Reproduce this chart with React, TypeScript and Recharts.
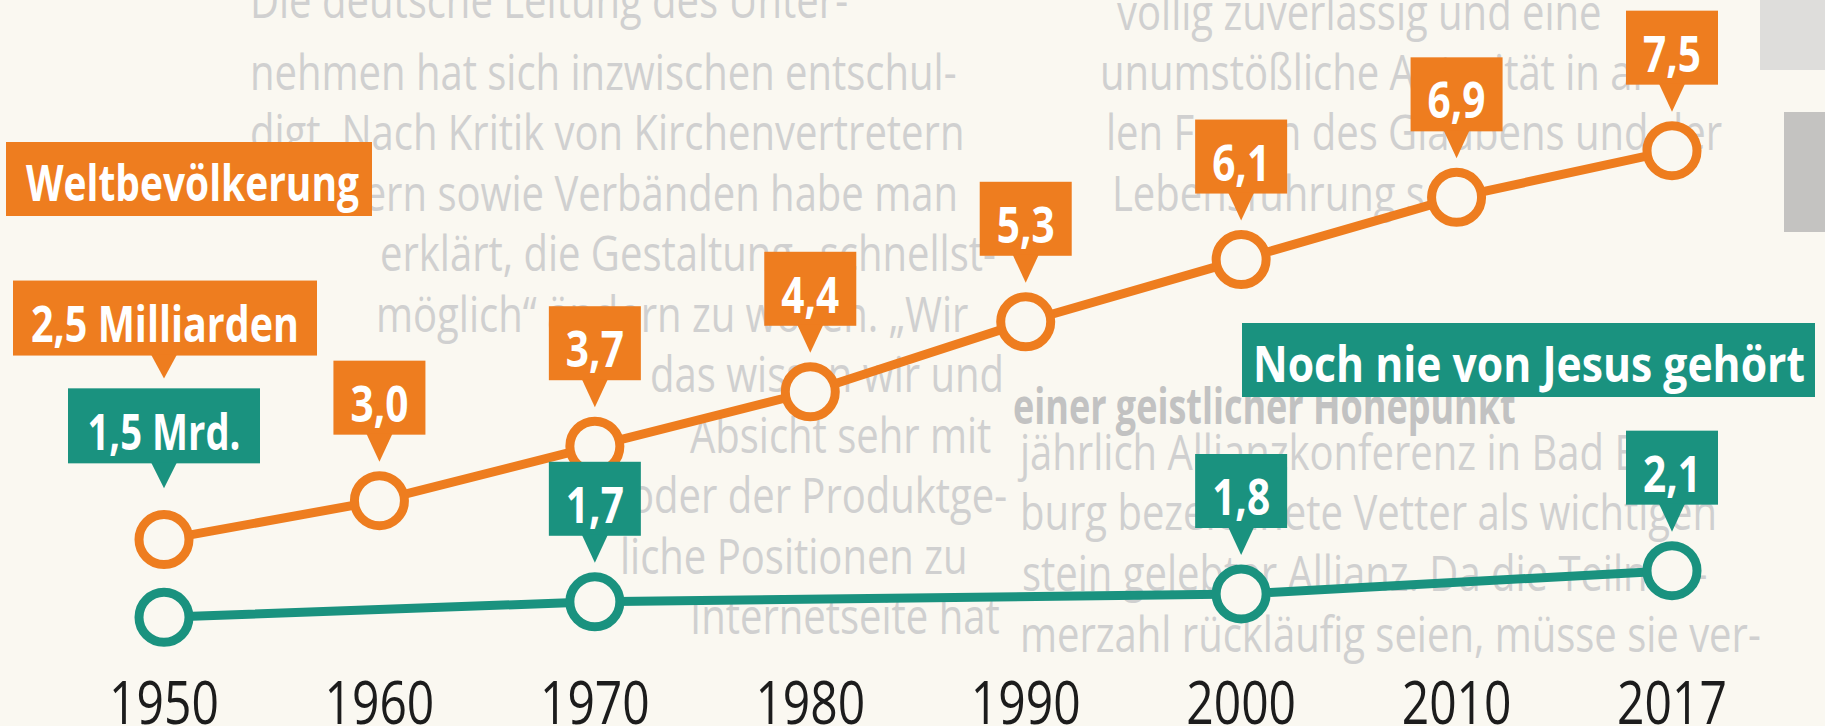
import { LineChart, Line, XAxis, YAxis, LabelList } from "recharts";

// Weltbevölkerung vs. Menschen, die noch nie von Jesus gehört haben (Mrd.)
const years = ["1950", "1960", "1970", "1980", "1990", "2000", "2010", "2017"];
const worldPopulation = [2.5, 3.0, 3.7, 4.4, 5.3, 6.1, 6.9, 7.5];
const neverHeard = [1.5, null, 1.7, null, null, 1.8, null, 2.1];
const worldLabels = ["2,5 Milliarden", "3,0", "3,7", "4,4", "5,3", "6,1", "6,9", "7,5"];
const neverHeardLabels = ["1,5 Mrd.", "", "1,7", "", "", "1,8", "", "2,1"];
const seriesTitles = ["Weltbevölkerung", "Noch nie von Jesus gehört"];

const data = years.map((year, i) => ({
  year,
  welt: worldPopulation[i],
  jesus: neverHeard[i],
}));

const W = 1825;
const H = 760;
const PAPER = "#faf8f1";
const ORANGE = "#ee7d1f";
const TEAL = "#1a927f";
const FONT = "'Open Sans', 'DejaVu Sans', sans-serif";

type Geo = { w: number; dx: number; top: number; bottom: number; tip: number; tw: number };
const valueBox: Geo = { w: 92, dx: 0, top: 140, bottom: 66, tip: 39, tw: 58 };

function makeCallout(labels: string[], color: string, lead: Geo) {
  return (props: any) => {
    const x = Number(props.x);
    const y = Number(props.y);
    const i = props.index;
    const text = labels[i];
    if (!text || isNaN(x) || isNaN(y)) return null;
    const g = i === 0 ? lead : valueBox;
    const cx = x + g.dx;
    const top = y - g.top;
    const bottom = y - g.bottom;
    const tip = y - g.tip;
    return (
      <g>
        <rect x={cx - g.w / 2} y={top} width={g.w} height={bottom - top} fill={color} />
        <polygon points={`${x - 13},${bottom - 1} ${x + 13},${bottom - 1} ${x},${tip}`} fill={color} />
        <text
          x={cx}
          y={(top + bottom) / 2 + 4}
          textAnchor="middle"
          dominantBaseline="central"
          textLength={g.tw}
          lengthAdjust="spacingAndGlyphs"
          fill="#fff"
          fontFamily={FONT}
          fontWeight={700}
          fontSize={51}
        >
          {text}
        </text>
      </g>
    );
  };
}

const YearTick = (props: any) => (
  <text
    transform={`translate(${props.x} ${H - 36}) scale(0.8 1)`}
    textAnchor="middle"
    fill="#1c1c1c"
    fontFamily={FONT}
    fontSize={60}
  >
    {props.payload.value}
  </text>
);

// faded article text of the scanned page behind the graphic: [text, x, baseline, bold]
const pageText: [string, number, number, boolean?][] = [
  ["Die deutsche Leitung des Unter-", 250, 18],
  ["nehmen hat sich inzwischen entschul-", 250, 90],
  ["digt. Nach Kritik von Kirchenvertretern", 250, 150],
  ["Politikern sowie Verbänden habe man", 250, 211],
  ["erklärt, die Gestaltung „schnellst-", 380, 271],
  ["möglich“ ändern zu wollen. „Wir", 376, 332],
  ["das wissen wir und", 650, 392],
  ["Absicht sehr mit", 690, 453],
  ["oder der Produktge-", 630, 513],
  ["liche Positionen zu", 620, 574],
  ["Internetseite hat", 690, 634],
  ["völlig zuverlässig und eine", 1117, 30],
  ["unumstößliche Autorität in al-", 1100, 90],
  ["len Fragen des Glaubens und der", 1106, 150],
  ["Lebensführung sei.", 1112, 211],
  ["einer geistlicher Höhepunkt", 1013, 424, true],
  ["jährlich Allianzkonferenz in Bad Blan-", 1020, 470],
  ["burg bezeichnete Vetter als wichtigen", 1020, 530],
  ["stein gelebter Allianz. Da die Teilneh-", 1022, 591],
  ["merzahl rückläufig seien, müsse sie ver-", 1020, 652],
];

function Title({ text, x, y, w, h, tx, tw, color }: { text: string; x: number; y: number; w: number; h: number; tx: number; tw: number; color: string }) {
  return (
    <g>
      <rect x={x} y={y} width={w} height={h} fill={color} />
      <text
        x={tx}
        y={y + h / 2 + 3}
        dominantBaseline="central"
        textLength={tw}
        lengthAdjust="spacingAndGlyphs"
        fill="#fff"
        fontFamily={FONT}
        fontWeight={700}
        fontSize={50}
      >
        {text}
      </text>
    </g>
  );
}

export default function App() {
  return (
    <div style={{ position: "fixed", left: 0, top: 0, width: W, height: 726, overflow: "hidden", background: PAPER }}>
      <svg width={W} height={726} style={{ position: "absolute", left: 0, top: 0 }}>
        <rect x={1760} y={0} width={65} height={70} fill="#dedddb" />
        <rect x={1784} y={112} width={41} height={120} fill="#c4c3c1" />
        {pageText.map(([t, x, y, bold]) => (
          <text
            key={t}
            transform={`translate(${x} ${y}) scale(${bold ? 0.72 : 0.8} 1)`}
            fill={bold ? "#c2c2c2" : "#d0d0d0"}
            fontFamily={FONT}
            fontWeight={bold ? 700 : 400}
            fontSize={50}
          >
            {t}
          </text>
        ))}
      </svg>
      <div style={{ position: "absolute", left: 0, top: 0 }}>
        <LineChart width={W} height={H} data={data} margin={{ top: 34, right: 153, left: 164, bottom: 0 }}>
          <XAxis
            dataKey="year"
            axisLine={false}
            tickLine={false}
            height={26}
            interval={0}
            tick={<YearTick />}
          />
          <YAxis hide domain={[0, 9]} />
          <Line
            dataKey="welt"
            stroke={ORANGE}
            strokeWidth={9}
            dot={{ r: 25, stroke: ORANGE, strokeWidth: 9, fill: PAPER }}
            activeDot={false}
            isAnimationActive={false}
          >
            <LabelList
              dataKey="welt"
              content={makeCallout(worldLabels, ORANGE, { w: 304, dx: 1, top: 259, bottom: 184, tip: 161, tw: 268 })}
            />
          </Line>
          <Line
            dataKey="jesus"
            stroke={TEAL}
            strokeWidth={9}
            connectNulls
            dot={{ r: 25, stroke: TEAL, strokeWidth: 9, fill: PAPER }}
            activeDot={false}
            isAnimationActive={false}
          >
            <LabelList
              dataKey="jesus"
              content={makeCallout(neverHeardLabels, TEAL, { w: 192, dx: 0, top: 229, bottom: 154, tip: 129, tw: 153 })}
            />
          </Line>
        </LineChart>
      </div>
      <svg width={W} height={726} style={{ position: "absolute", left: 0, top: 0, pointerEvents: "none" }}>
        <Title text={seriesTitles[0]} x={6} y={142} w={366} h={74} tx={26} tw={333} color={ORANGE} />
        <Title text={seriesTitles[1]} x={1242} y={323} w={573} h={74} tx={1253} tw={552} color={TEAL} />
      </svg>
    </div>
  );
}
